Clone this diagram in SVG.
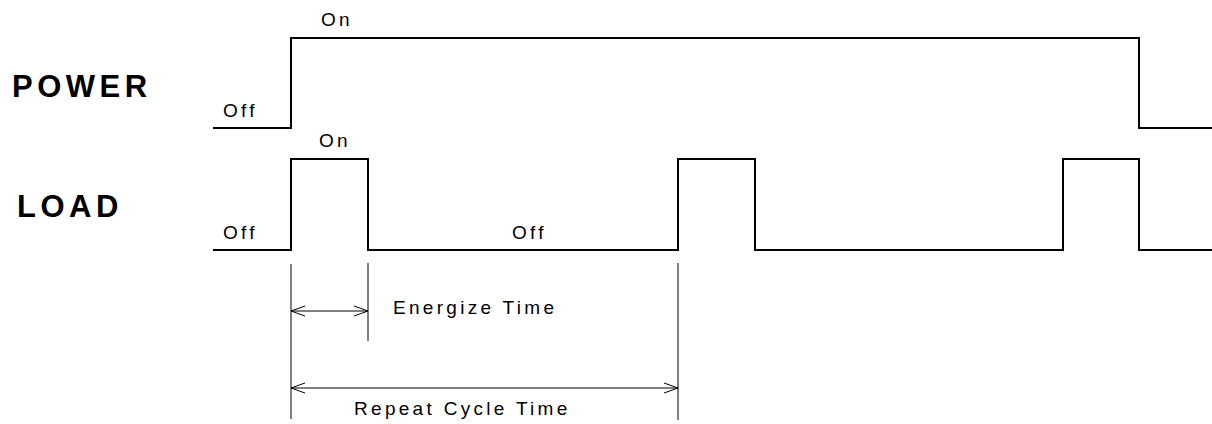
<svg xmlns="http://www.w3.org/2000/svg" width="1212" height="424" viewBox="0 0 1212 424">
  <style>
    .wave { fill: none; stroke: #000; stroke-width: 2; stroke-linejoin: miter; }
    .dim { fill: none; stroke: #000; stroke-width: 1; }
    .sig { font-family: "Liberation Sans", Arial, sans-serif; font-size: 31px; font-weight: bold; letter-spacing: 4.5px; fill: #000; }
    .lbl { font-family: "Liberation Sans", Arial, sans-serif; font-size: 19px; letter-spacing: 3.3px; fill: #000; }
  </style>
  <defs>
    <marker id="arrow" viewBox="-16 -6 17 12" markerWidth="17" markerHeight="12" refX="0" refY="0" orient="auto-start-reverse" markerUnits="userSpaceOnUse">
      <path d="M-14,-5 L0,0 L-14,5" fill="none" stroke="#000" stroke-width="1"/>
    </marker>
  </defs>
  <rect width="1212" height="424" fill="#fff"/>

  <g id="power">
    <text class="sig" x="12" y="97">POWER</text>
    <polyline class="wave" points="213,128 291,128 291,38 1139,38 1139,128 1212,128"/>
    <text class="lbl" x="321" y="26">On</text>
    <text class="lbl" x="223" y="117">Off</text>
  </g>

  <g id="load">
    <text class="sig" x="17" y="217">LOAD</text>
    <polyline class="wave" points="213,250 291,250 291,159 368,159 368,250 678,250 678,159 755,159 755,250 1063,250 1063,159 1139,159 1139,250 1212,250"/>
    <text class="lbl" x="319" y="147">On</text>
    <text class="lbl" x="223" y="239">Off</text>
    <text class="lbl" x="512" y="239">Off</text>
  </g>

  <g id="connectors">
    <line class="dim" x1="291" y1="264" x2="291" y2="419"/>
    <line class="dim" x1="368" y1="263" x2="368" y2="341"/>
    <line class="dim" x1="678" y1="263" x2="678" y2="420"/>
    <line class="dim" x1="291" y1="311" x2="368" y2="311" marker-start="url(#arrow)" marker-end="url(#arrow)"/>
    <line class="dim" x1="291" y1="388" x2="678" y2="388" marker-start="url(#arrow)" marker-end="url(#arrow)"/>
  </g>

  <g id="energize-time">
    <text class="lbl" x="393" y="314">Energize Time</text>
  </g>
  <g id="repeat-cycle-time">
    <text class="lbl" x="354" y="415">Repeat Cycle Time</text>
  </g>
</svg>
